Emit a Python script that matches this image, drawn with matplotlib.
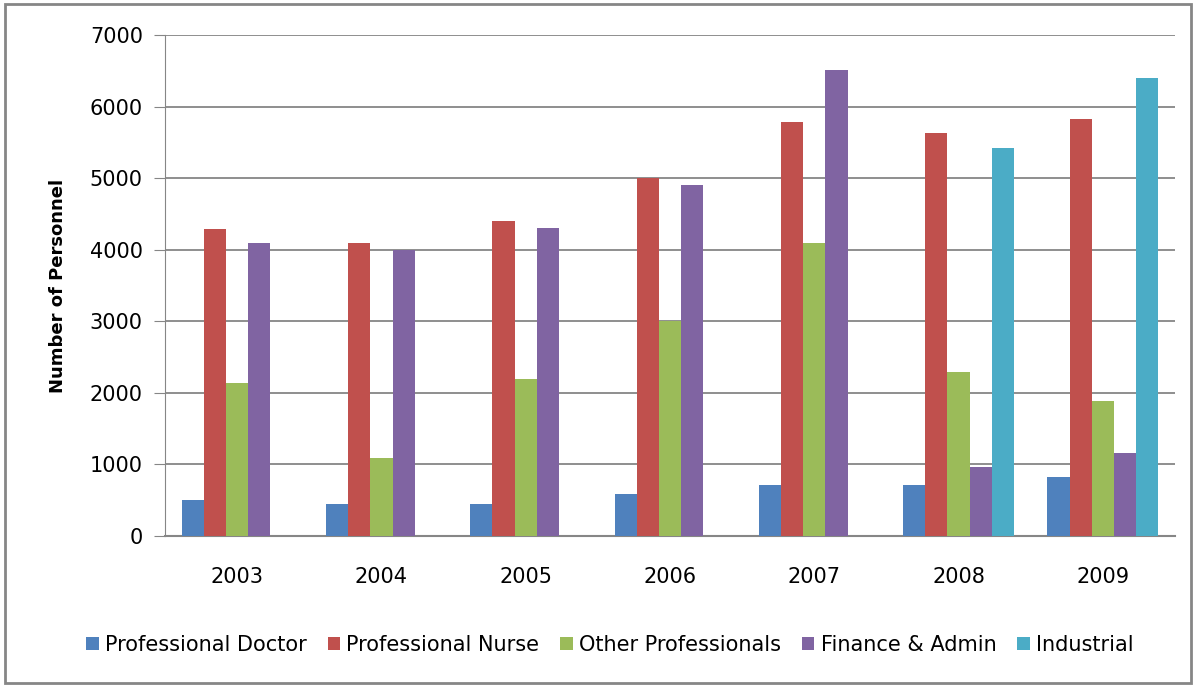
import numpy as np
import matplotlib.pyplot as plt
from matplotlib.patches import Rectangle

years = ['2003', '2004', '2005', '2006', '2007', '2008', '2009']
series = ['Professional Doctor', 'Professional Nurse', 'Other Professionals',
          'Finance & Admin', 'Industrial']
doctor = [500, 450, 450, 590, 710, 710, 820]
nurse = [4290, 4100, 4400, 5000, 5780, 5630, 5830]
other = [2140, 1090, 2200, 3000, 4100, 2290, 1890]
finance = [4100, 3990, 4300, 4900, 6510, 960, 1160]
industrial = [0, 0, 0, 0, 0, 5420, 6400]
colors = ['#4F81BD', '#C0504D', '#9BBB59', '#8064A2', '#4BACC6']

values = [doctor, nurse, other, finance, industrial]

fig = plt.figure(figsize=(11.96, 6.86), dpi=100)
ax = fig.add_axes([165/1196, 1-536/686, (1175-165)/1196, (536-35)/686])

x = np.arange(len(years))
w = 1 / 6.5
for i, (vals, name, c) in enumerate(zip(values, series, colors)):
    ax.bar(x + (i - 2) * w, vals, w, color=c, label=name, zorder=3)

ax.set_xlim(-0.5, len(years) - 0.5)
ax.set_ylim(0, 7000)
ax.set_yticks(range(0, 7001, 1000))
ax.set_xticks(x)
ax.set_xticklabels(years)
ax.yaxis.grid(True, color='#868686', linewidth=1.3, zorder=0)
for s in ['top', 'right']:
    ax.spines[s].set_visible(False)
ax.spines['left'].set_color('#868686')
ax.spines['bottom'].set_color('#868686')
ax.spines['bottom'].set_linewidth(1.5)
ax.tick_params(axis='y', length=8, color='#868686', labelsize=15, pad=8)
ax.tick_params(axis='x', length=0, labelsize=15, pad=22)
ax.set_ylabel('Number of Personnel', fontsize=13, fontweight='bold', labelpad=16)

fig.legend(loc='center', bbox_to_anchor=(0.51, 1-645/686), ncol=5, frameon=False,
           fontsize=15, handlelength=0.6, handleheight=0.6, handletextpad=0.3,
           columnspacing=1.0)

fig.patches.append(Rectangle((5/1196, 3/686), 1186/1196, 679/686, transform=fig.transFigure,
                             fill=False, edgecolor='#868686', linewidth=2))

fig.savefig('out.png', dpi=100)
